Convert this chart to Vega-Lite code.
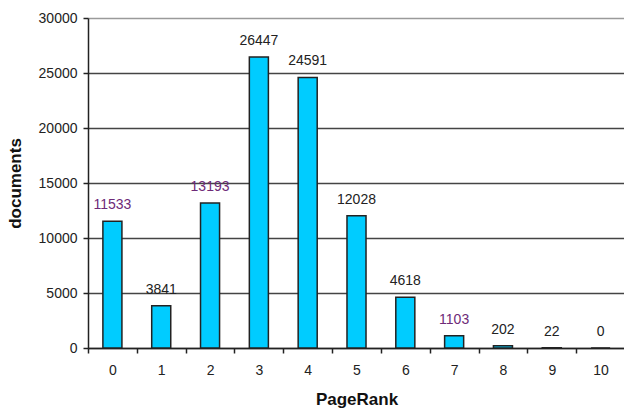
{
  "$schema": "https://vega.github.io/schema/vega-lite/v6.json",
  "width": 537,
  "height": 330,
  "autosize": {"type": "none"},
  "padding": {"left": 88, "top": 18, "right": 0, "bottom": 61},
  "background": "white",
  "config": {
    "view": {"stroke": null},
    "font": "Liberation Sans"
  },
  "data": {
    "values": [
      {"rank": "0", "docs": 11533},
      {"rank": "1", "docs": 3841},
      {"rank": "2", "docs": 13193},
      {"rank": "3", "docs": 26447},
      {"rank": "4", "docs": 24591},
      {"rank": "5", "docs": 12028},
      {"rank": "6", "docs": 4618},
      {"rank": "7", "docs": 1103},
      {"rank": "8", "docs": 202},
      {"rank": "9", "docs": 22},
      {"rank": "10", "docs": 0}
    ]
  },
  "encoding": {
    "x": {
      "field": "rank",
      "type": "ordinal",
      "sort": null,
      "scale": {"paddingInner": 0, "paddingOuter": 0},
      "axis": {
        "title": "PageRank",
        "titleFont": "Liberation Sans",
        "titleFontSize": 17,
        "titleFontWeight": "bold",
        "titleColor": "#111",
        "titlePadding": 14,
        "labelAngle": 0,
        "labelFont": "Liberation Sans",
        "labelFontSize": 14,
        "labelColor": "#222",
        "labelPadding": 10,
        "tickBand": "extent",
        "tickSize": 5,
        "tickColor": "#222",
        "tickWidth": 1.5,
        "domainColor": "#222",
        "domainWidth": 1.5,
        "grid": false
      }
    },
    "y": {
      "field": "docs",
      "type": "quantitative",
      "scale": {"domain": [0, 30000], "nice": false},
      "axis": {
        "title": "documents",
        "titleFont": "Liberation Sans",
        "titleFontSize": 17,
        "titleFontWeight": "bold",
        "titleColor": "#111",
        "titlePadding": 14,
        "values": [0, 5000, 10000, 15000, 20000, 25000, 30000],
        "format": "d",
        "labelFont": "Liberation Sans",
        "labelFontSize": 14,
        "labelColor": "#222",
        "labelPadding": 6,
        "tickSize": 5,
        "tickColor": "#222",
        "tickWidth": 1.5,
        "domainColor": "#222",
        "domainWidth": 1.5,
        "grid": true,
        "gridColor": {"condition": {"test": "datum.value == 30000", "value": "#9a9a9a"}, "value": "#444"},
        "gridWidth": 1.5
      }
    }
  },
  "layer": [
    {
      "mark": {"type": "bar", "width": {"band": 0.39}, "color": "#00CCFF", "stroke": "#222", "strokeWidth": 1.5}
    },
    {
      "mark": {"type": "text", "baseline": "alphabetic", "dy": -12, "fontSize": 14, "font": "Liberation Sans"},
      "encoding": {
        "text": {"field": "docs", "type": "quantitative", "format": "d"},
        "color": {
          "condition": {"test": "datum.docs == 11533 || datum.docs == 13193 || datum.docs == 1103", "value": "#6e2a78"},
          "value": "#222"
        }
      }
    }
  ]
}
